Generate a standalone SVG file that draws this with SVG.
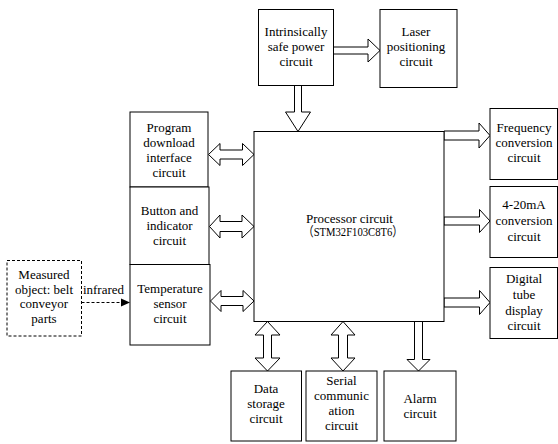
<svg xmlns="http://www.w3.org/2000/svg" width="558" height="444" viewBox="0 0 558 444">
<style>
.box{fill:#fff;stroke:#000;stroke-width:1}
.dbox{fill:#fff;stroke:#000;stroke-width:1;stroke-dasharray:3 2}
.arr{fill:#fff;stroke:#000;stroke-width:1;stroke-linejoin:miter}
text{font-family:"Liberation Serif","Times New Roman","Noto Sans CJK SC",serif;font-size:13px;fill:#000;text-anchor:middle}
</style>
<rect width="558" height="444" fill="#fff"/>
<g id="connectors">
<polygon class="arr" points="333.5,47 368,47 368,39 380,50.5 368,62 368,54 333.5,54"/>
<polygon class="arr" points="294.5,85.5 294.5,112 285.5,112 298,131.5 310.5,112 301.5,112 301.5,85.5"/>
<polygon class="arr" points="444,131 479,131 479,123 490,135.5 479,148 479,140 444,140"/>
<polygon class="arr" points="444,217 479.5,217 479.5,209.5 490,221 479.5,232.5 479.5,225 444,225"/>
<polygon class="arr" points="444,298 479.5,298 479.5,290.5 490,302.5 479.5,314.5 479.5,307 444,307"/>
<polygon class="arr" points="208.5,154.5 220,143.5 220,150 242.5,150 242.5,143.5 254,154.5 242.5,165.5 242.5,159 220,159 220,165.5"/>
<polygon class="arr" points="209.5,226.5 220,215 220,221.5 242,221.5 242,215 254,226.5 242,238 242,231.5 220,231.5 220,238"/>
<polygon class="arr" points="210.5,301 221,290.5 221,296.5 243,296.5 243,290.5 254,301 243,311.5 243,305.5 221,305.5 221,311.5"/>
<polygon class="arr" points="267.5,321.5 280,335 271.5,335 271.5,358 280,358 267.5,371 255,358 263.5,358 263.5,335 255,335"/>
<polygon class="arr" points="343,321.5 355,335 347.5,335 347.5,358 355,358 343,371 331,358 338.5,358 338.5,335 331,335"/>
<polygon class="arr" points="414.5,321.5 414.5,359.5 407,359.5 418.5,371 430,359.5 422.5,359.5 422.5,321.5"/>
<line x1="81.5" y1="302.5" x2="121" y2="302.5" stroke="#000" stroke-width="1" stroke-dasharray="3 2"/>
<polygon points="121,298.5 130,302.5 121,306.5" fill="#000"/>
<text x="103.5" y="293.5">infrared</text>
</g>
<g id="intrinsic">
<rect class="box" x="258.5" y="9.5" width="75" height="76"/>
<text x="296" y="36">Intrinsically</text>
<text x="296" y="51">safe power</text>
<text x="296" y="66">circuit</text>
</g>
<g id="laser">
<rect class="box" x="380" y="9.5" width="77" height="78"/>
<text x="416" y="36">Laser</text>
<text x="416" y="51">positioning</text>
<text x="416" y="66">circuit</text>
</g>
<g id="program">
<rect class="box" x="130" y="112" width="78" height="75"/>
<text x="169" y="132">Program</text>
<text x="169" y="147">download</text>
<text x="169" y="162">interface</text>
<text x="169" y="177">circuit</text>
</g>
<g id="button">
<rect class="box" x="130" y="187" width="79" height="77.5"/>
<text x="169.5" y="215">Button and</text>
<text x="169.5" y="230">indicator</text>
<text x="169.5" y="245">circuit</text>
</g>
<g id="temperature">
<rect class="box" x="130" y="264.5" width="80" height="80.5"/>
<text x="170" y="293">Temperature</text>
<text x="170" y="308">sensor</text>
<text x="170" y="323">circuit</text>
</g>
<g id="measured">
<rect class="dbox" x="7" y="260.5" width="74.5" height="75.5"/>
<text x="44" y="279">Measured</text>
<text x="44" y="293.5">object: belt</text>
<text x="44" y="308">conveyor</text>
<text x="44" y="322.5">parts</text>
</g>
<g id="processor">
<rect class="box" x="254" y="131.5" width="190" height="190"/>
<text x="349.5" y="222.5">Processor circuit</text>
<text x="353" y="236" textLength="100" lengthAdjust="spacingAndGlyphs">（STM32F103C8T6）</text>
</g>
<g id="frequency">
<rect class="box" x="490" y="108.5" width="67.5" height="71"/>
<text x="524" y="132">Frequency</text>
<text x="524" y="147">conversion</text>
<text x="524" y="162">circuit</text>
</g>
<g id="current">
<rect class="box" x="490" y="186.5" width="67.5" height="71"/>
<text x="524" y="209">4-20mA</text>
<text x="524" y="225">conversion</text>
<text x="524" y="241">circuit</text>
</g>
<g id="digital">
<rect class="box" x="490" y="267.5" width="67.5" height="71"/>
<text x="524" y="283">Digital</text>
<text x="524" y="299">tube</text>
<text x="524" y="314.5">display</text>
<text x="524" y="330">circuit</text>
</g>
<g id="datastorage">
<rect class="box" x="231" y="371" width="70.5" height="70"/>
<text x="266" y="393">Data</text>
<text x="266" y="408">storage</text>
<text x="266" y="423">circuit</text>
</g>
<g id="serial">
<rect class="box" x="306" y="371" width="71" height="70"/>
<text x="341.5" y="385">Serial</text>
<text x="341.5" y="400">communic</text>
<text x="341.5" y="415">ation</text>
<text x="341.5" y="430">circuit</text>
</g>
<g id="alarm">
<rect class="box" x="384" y="371" width="72" height="70"/>
<text x="420" y="403">Alarm</text>
<text x="420" y="418">circuit</text>
</g>
</svg>
